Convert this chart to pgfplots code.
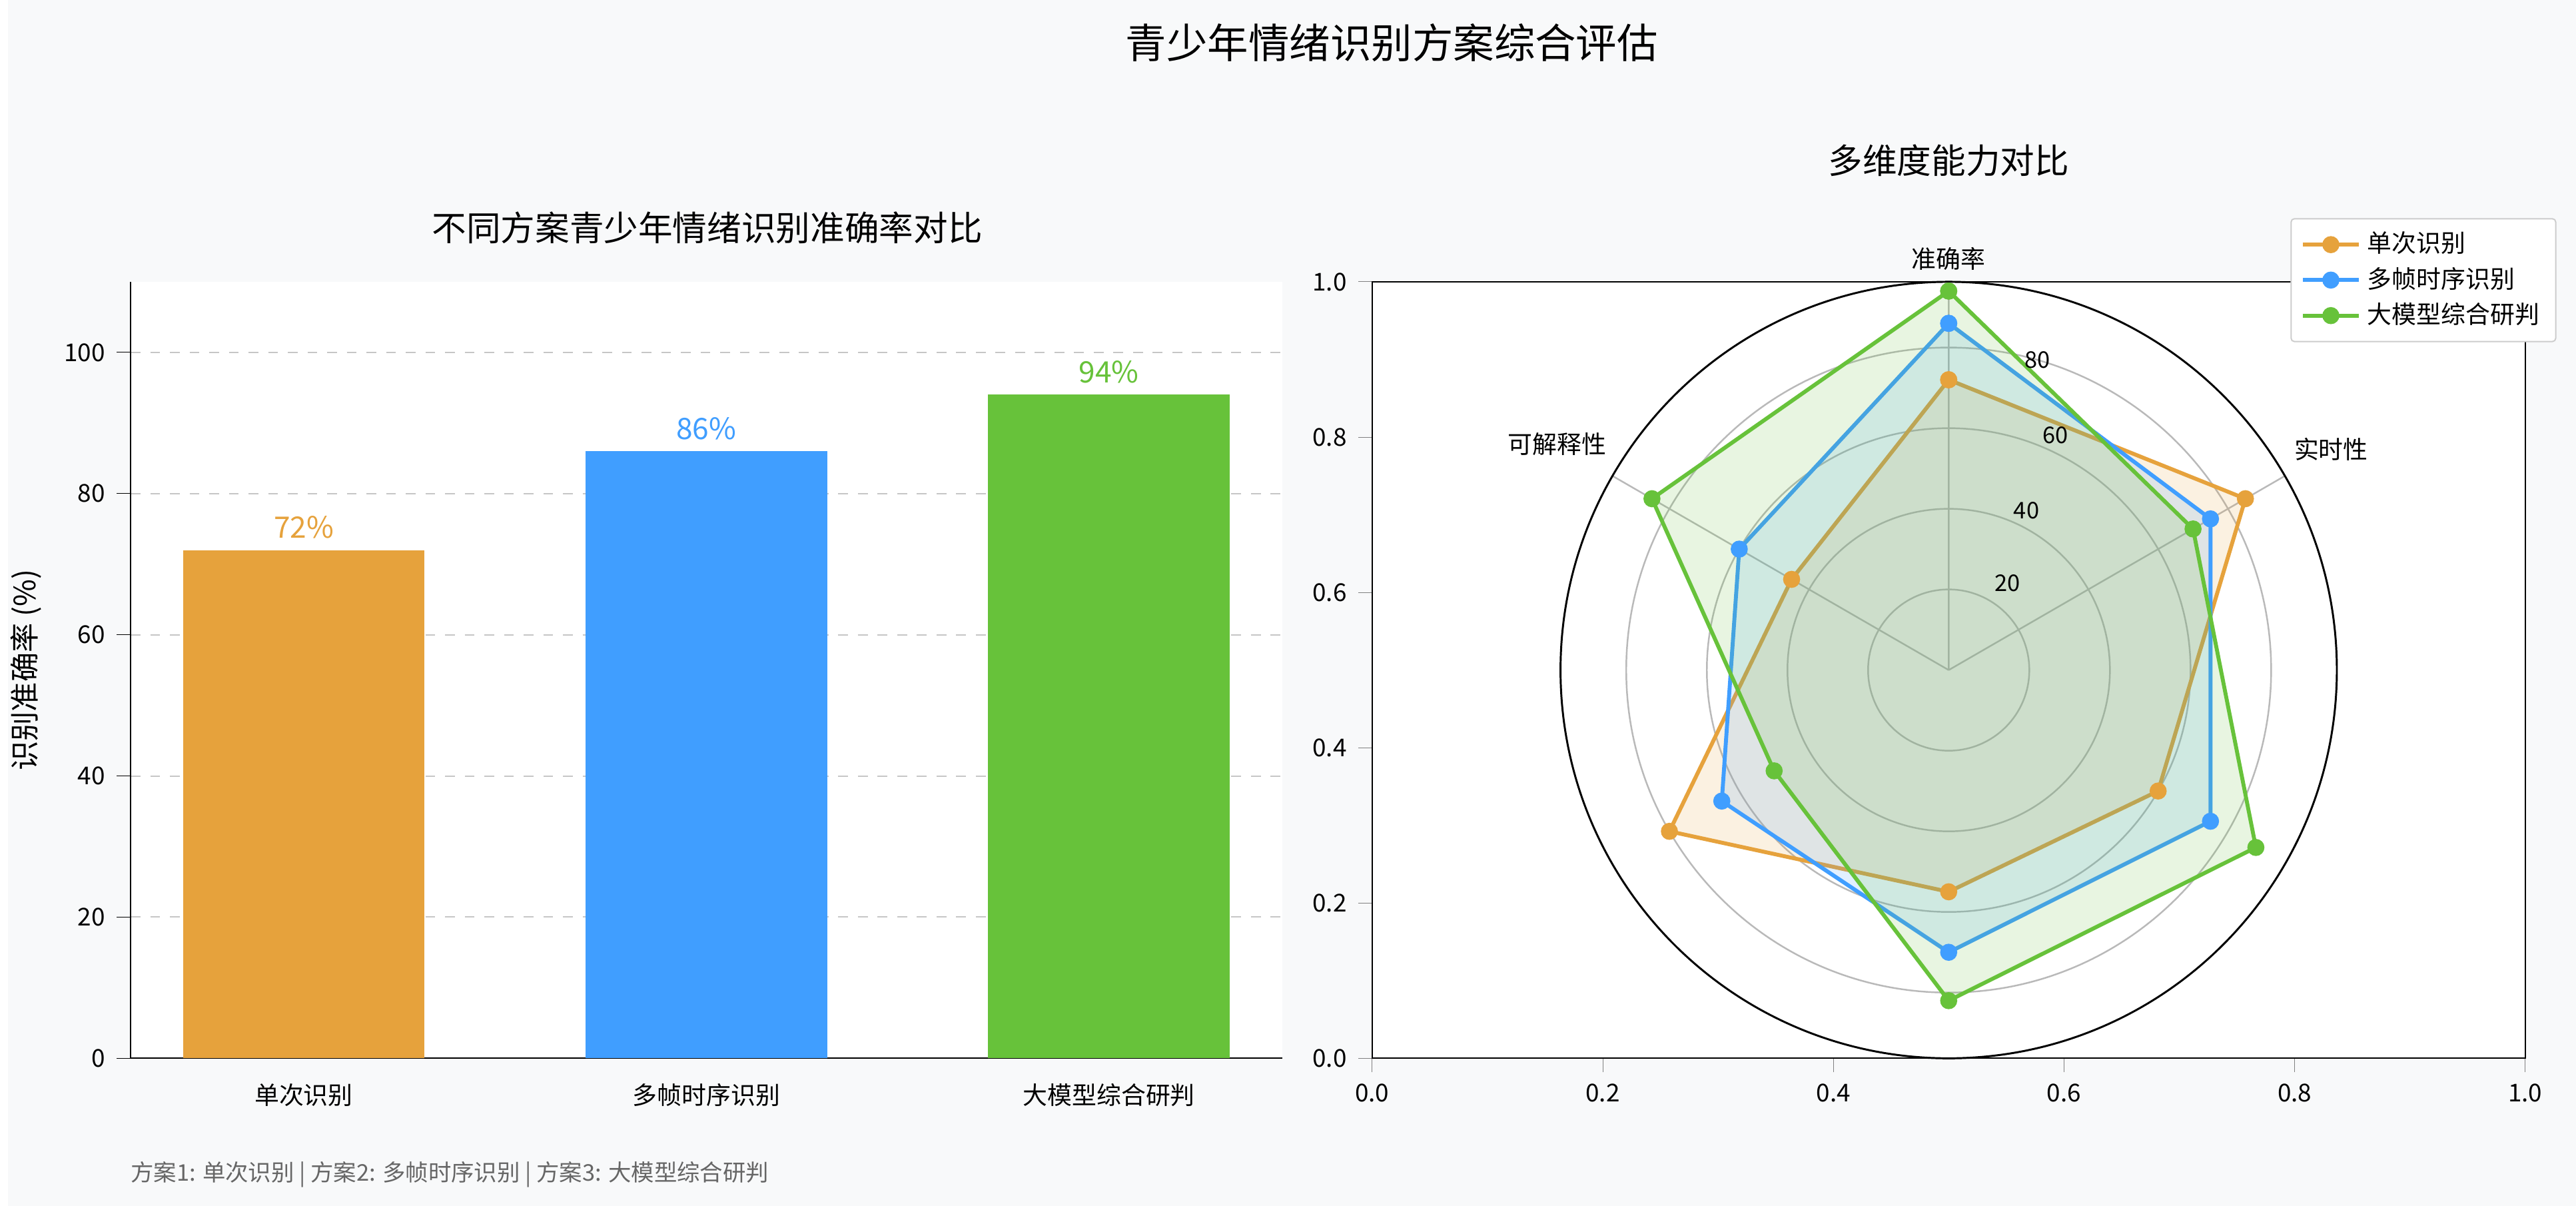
\documentclass[border=0pt]{standalone}
\usepackage{pgfplots}
\pgfplotsset{compat=1.18}
\usepgfplotslibrary{polar}
\usepackage{fontspec}
\setmainfont{Noto Sans CJK SC}
\definecolor{cO}{HTML}{E6A23C}
\definecolor{cB}{HTML}{409EFF}
\definecolor{cG}{HTML}{67C23A}
\definecolor{bg}{HTML}{F8F9FA}
\begin{document}
\begin{tikzpicture}
\fill[bg] (0pt,0pt) rectangle (784pt,368pt);
\node[font=\fontsize{12.5}{14}\selectfont] at (422.5pt,355pt) {青少年情绪识别方案综合评估};
\node[font=\fontsize{10.5}{12}\selectfont] at (213.5pt,298.5pt) {不同方案青少年情绪识别准确率对比};
\node[font=\fontsize{10.5}{12}\selectfont] at (592.5pt,319pt) {多维度能力对比};
\node[font=\fontsize{7}{8}\selectfont, text=gray!80!black, anchor=west] at (34pt,9.5pt) {方案1: 单次识别 | 方案2: 多帧时序识别 | 方案3: 大模型综合研判};
\begin{axis}[at={(37.5pt,45pt)}, anchor=south west, scale only axis, width=351.5pt, height=237pt,
  axis background/.style={fill=white},
  xmin=-0.43, xmax=2.43, ymin=0, ymax=110,
  xtick={0,1,2}, xticklabels={单次识别,多帧时序识别,大模型综合研判},
  ytick={0,20,40,60,80,100},
  axis x line*=bottom, axis y line*=left,
  x axis line style={-}, y axis line style={-},
  ymajorgrids, grid style={dashed, gray!45},
  tick label style={font=\fontsize{7.5}{9}\selectfont},
  /pgf/number format/assume math mode=true,
  ylabel={识别准确率 (\%)}, ylabel style={font=\fontsize{9}{10}\selectfont},
  tick align=outside, tick style={black}, xtick style={draw=none},
  every node near coord/.append style={font=\fontsize{9}{10}\selectfont}]
\addplot[ybar, bar width=0.6, fill=cO, draw=none, nodes near coords={72\%}, every node near coord/.append style={text=cO}] coordinates {(0,72)};
\addplot[ybar, bar width=0.6, fill=cB, draw=none, nodes near coords={86\%}, every node near coord/.append style={text=cB}] coordinates {(1,86)};
\addplot[ybar, bar width=0.6, fill=cG, draw=none, nodes near coords={94\%}, every node near coord/.append style={text=cG}] coordinates {(2,94)};
\end{axis}
\begin{axis}[at={(416.5pt,45pt)}, anchor=south west, scale only axis, width=352pt, height=237pt,
  axis background/.style={fill=white},
  xmin=0, xmax=1, ymin=0, ymax=1,
  xtick={0,0.2,0.4,0.6,0.8,1}, ytick={0,0.2,0.4,0.6,0.8,1},
  xticklabel style={/pgf/number format/.cd, fixed, fixed zerofill, precision=1},
  yticklabel style={/pgf/number format/.cd, fixed, fixed zerofill, precision=1},
  tick label style={font=\fontsize{7.5}{9}\selectfont},
  /pgf/number format/assume math mode=true,
  tick align=outside, xtick pos=bottom, ytick pos=left,
  legend style={at={(1.027,1.082)}, anchor=north east, font=\fontsize{7.5}{9}\selectfont, draw=gray!40, rounded corners=1pt, row sep=-1pt},
  legend cell align=left]
\addlegendimage{cO, line width=1.2pt, mark=*, mark size=2pt}
\addlegendentry{单次识别}
\addlegendimage{cB, line width=1.2pt, mark=*, mark size=2pt}
\addlegendentry{多帧时序识别}
\addlegendimage{cG, line width=1.2pt, mark=*, mark size=2pt}
\addlegendentry{大模型综合研判}
\end{axis}
\begin{polaraxis}[at={(592.5pt,163.5pt)}, anchor=center, scale only axis, width=237pt, height=237pt,
  ymin=0, ymax=96.3,
  xtick={90,30,-30,-90,-150,150},
  xticklabels={准确率,实时性,泛化能力,抗干扰,资源消耗,可解释性},
  ytick={20,40,60,80}, yticklabels={},
  grid=major, major grid style={gray!55, line width=0.5pt},
  tick label style={font=\fontsize{7.5}{9}\selectfont},
  x axis line style={black, line width=0.6pt},
  y axis line style={draw=none}, ytick style={draw=none}, xtick style={draw=none}]
\addplot[cO, line width=1.2pt, mark=*, mark size=2pt, fill=cO, fill opacity=0.15, mark options={fill opacity=1}] coordinates {(90,72) (30,85) (-30,60) (-90,55) (-150,80) (150,45) (90,72)};
\addplot[cB, line width=1.2pt, mark=*, mark size=2pt, fill=cB, fill opacity=0.15, mark options={fill opacity=1}] coordinates {(90,86) (30,75) (-30,75) (-90,70) (-150,65) (150,60) (90,86)};
\addplot[cG, line width=1.2pt, mark=*, mark size=2pt, fill=cG, fill opacity=0.15, mark options={fill opacity=1}] coordinates {(90,94) (30,70) (-30,88) (-90,82) (-150,50) (150,85) (90,94)};
\node[font=\fontsize{7}{8}\selectfont] at (axis cs:56,26) {20};
\node[font=\fontsize{7}{8}\selectfont] at (axis cs:64,44) {40};
\node[font=\fontsize{7}{8}\selectfont] at (axis cs:65.5,64) {60};
\node[font=\fontsize{7}{8}\selectfont] at (axis cs:74,80) {80};
\end{polaraxis}
\end{tikzpicture}
\end{document}
